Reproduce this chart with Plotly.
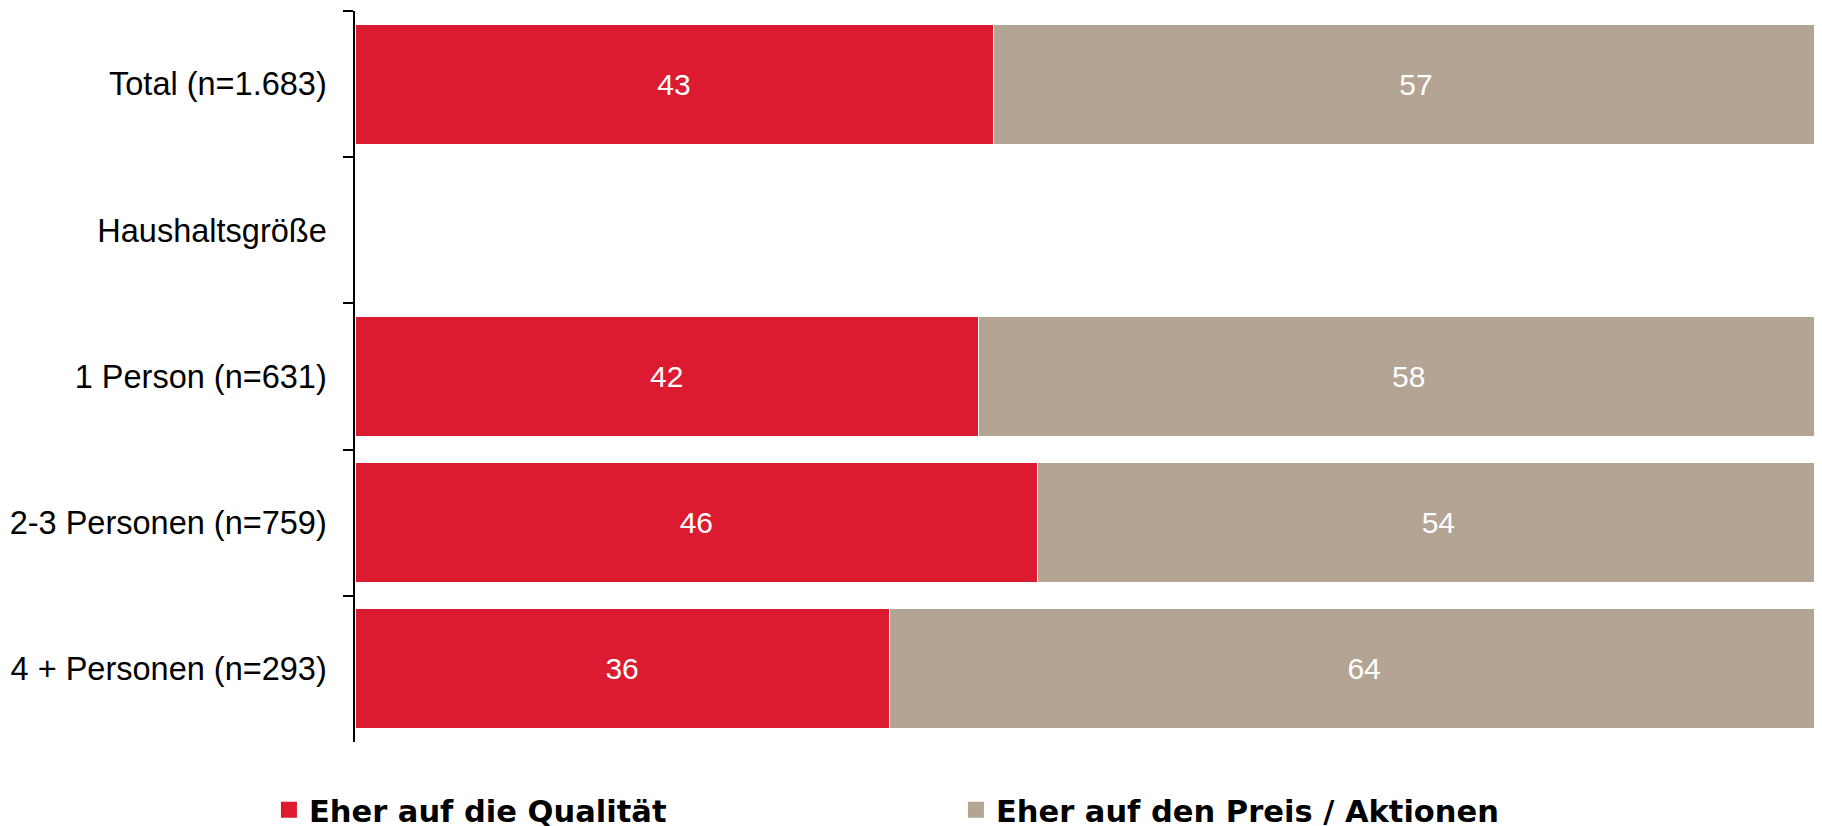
import plotly.graph_objects as go

categories = ["Total (n=1.683)", "Haushaltsgröße", "1 Person (n=631)", "2-3 Personen (n=759)", "4 + Personen (n=293)"]
qualitaet = [43, None, 42, 46, 36]
preis = [57, None, 58, 54, 64]
series_names = ["Eher auf die Qualität", "Eher auf den Preis / Aktionen"]
colors = ["#DC1A30", "#B3A494"]

fig = go.Figure()
for name, vals, col in zip(series_names, [qualitaet, preis], colors):
    fig.add_trace(go.Bar(
        y=categories, x=vals, name=name, orientation="h",
        marker=dict(color=col, line=dict(color="white", width=1)),
        text=[("" if v is None else str(v)) for v in vals],
        textposition="inside", insidetextanchor="middle",
        textfont=dict(color="white", size=30, family="Liberation Sans, Arial"),
        hoverinfo="skip", showlegend=False,
    ))
# legend proxies (square swatches like the original)
for name, col in zip(series_names, colors):
    fig.add_trace(go.Scatter(
        x=[None], y=[None], mode="markers", name=name,
        marker=dict(symbol="square", size=17, color=col),
        hoverinfo="skip",
    ))

fig.update_layout(
    barmode="stack",
    bargap=0.18,
    width=1831, height=826,
    margin=dict(l=347, r=0, t=3, b=92, autoexpand=False),
    paper_bgcolor="white", plot_bgcolor="white",
    font=dict(family="Liberation Sans, Arial", color="black"),
    showlegend=True,
    legend=dict(
        orientation="h", x=-0.058, xanchor="left", y=-0.093, yanchor="middle",
        font=dict(family="DejaVu Sans", size=30.5, color="black", weight="bold"),
        entrywidth=642, entrywidthmode="pixels",
        traceorder="normal", itemsizing="trace",
    ),
)
fig.update_xaxes(range=[0, 100], visible=False, fixedrange=True, automargin=False)
fig.update_yaxes(
    type="category", categoryorder="array", categoryarray=categories,
    autorange="reversed", automargin=False,
    showline=True, linecolor="black", linewidth=1.5,
    ticks="outside", tickson="boundaries", ticklen=10, tickcolor="black", tickwidth=1.5,
    tickfont=dict(size=32.5, color="black", family="Liberation Sans, Arial"),
    ticklabelstandoff=20,
    showgrid=False, zeroline=False,
)

fig.write_html("out.html")
